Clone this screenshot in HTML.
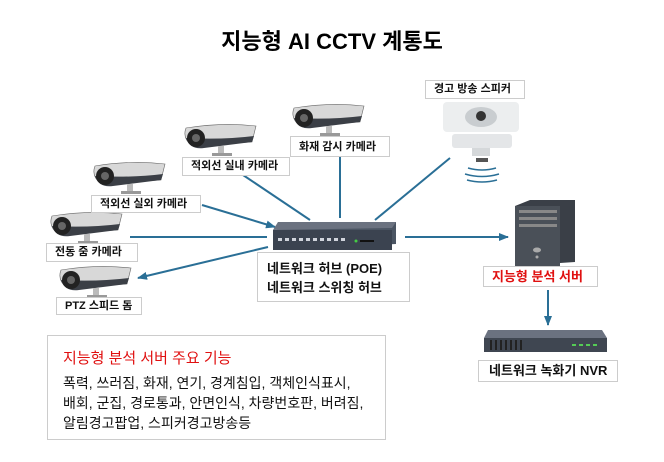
<!DOCTYPE html>
<html><head><meta charset="utf-8"><style>
body{margin:0;width:664px;height:462px;background:#fff;overflow:hidden;font-family:"Liberation Sans","Noto Sans CJK KR",sans-serif;position:relative}
.t{position:absolute;white-space:nowrap}
.b{position:absolute;border:1px solid #ccc;background:#fff;box-sizing:border-box;font-weight:bold;font-size:11px;color:#111;padding-left:8px;line-height:16px}
</style></head><body>
<div class="t" style="left:0;width:664px;text-align:center;top:24px;font-size:22px;font-weight:bold;color:#000">지능형 AI CCTV 계통도</div>
<svg width="664" height="462" style="position:absolute;left:0;top:0">
<defs>
<marker id="a" markerUnits="userSpaceOnUse" markerWidth="10" markerHeight="8" refX="9" refY="4" orient="auto"><path d="M0,0L10,4L0,8z" fill="#2a6f96"/></marker>
<g id="cam">
<path d="M4,4 Q0,14 10,22 L70,18 L74,2 Q40,-2 4,4z" fill="#d8d8d8" stroke="#666" stroke-width="0.6"/>
<path d="M4,14 Q8,26 22,24 L70,18 L72,12 Q40,16 4,14z" fill="#3b3f46"/>
<ellipse cx="14" cy="14" rx="9" ry="9" fill="#222"/><circle cx="14" cy="14" r="4" fill="#666"/>
<rect x="36" y="22" width="6" height="8" fill="#bbb"/><rect x="30" y="29" width="20" height="3" fill="#999"/>
</g>
</defs>
<g stroke="#2a6f96" stroke-width="2" fill="none">
<line x1="130" y1="237" x2="267" y2="237"/>
<line x1="202" y1="205" x2="275" y2="227" marker-end="url(#a)"/>
<line x1="243" y1="175" x2="310" y2="220"/>
<line x1="340" y1="157" x2="340" y2="218"/>
<line x1="450" y1="158" x2="375" y2="220"/>
<line x1="268" y1="247" x2="138" y2="278" marker-end="url(#a)"/>
<line x1="405" y1="237" x2="508" y2="237" marker-end="url(#a)"/>
<line x1="548" y1="290" x2="548" y2="325" marker-end="url(#a)"/>
</g>
<use href="#cam" x="290" y="104"/>
<use href="#cam" x="182" y="124"/>
<use href="#cam" x="91" y="162"/>
<use href="#cam" x="48" y="212"/>
<use href="#cam" x="57" y="266"/>
<path d="M278,222 L396,222 L396,244 L273,250 Z" fill="#4b5563"/>
<path d="M278,222 L396,222 L392,228 L273,230Z" fill="#6b7280"/>
<rect x="273" y="230" width="119" height="20" fill="#3b4350"/>
<g fill="#d0d4dc"><rect x="278" y="238" width="4" height="3"/><rect x="285" y="238" width="4" height="3"/><rect x="292" y="238" width="4" height="3"/><rect x="299" y="238" width="4" height="3"/><rect x="306" y="238" width="4" height="3"/><rect x="313" y="238" width="4" height="3"/><rect x="320" y="238" width="4" height="3"/><rect x="327" y="238" width="4" height="3"/><rect x="334" y="238" width="4" height="3"/><rect x="341" y="238" width="4" height="3"/></g>
<rect x="360" y="240" width="14" height="2" fill="#111"/><circle cx="356" cy="241" r="1.5" fill="#4c4"/>
<rect x="443" y="102" width="76" height="30" rx="4" fill="#eceeef"/>
<ellipse cx="481" cy="117" rx="16" ry="10" fill="#c9cdd0"/><circle cx="481" cy="116" r="5" fill="#333"/>
<rect x="452" y="134" width="60" height="14" rx="3" fill="#e4e6e8"/>
<rect x="472" y="148" width="18" height="8" fill="#d5d8da"/><rect x="476" y="158" width="12" height="4" fill="#555"/>
<g stroke="#2a6f96" stroke-width="1.5" fill="none"><path d="M468,168 Q482,172 496,168"/><path d="M465,174 Q482,179 499,174"/><path d="M467,180 Q482,184 497,180"/></g>
<path d="M515,206 L530,200 L575,200 L575,262 L515,266Z" fill="#3a3f47"/>
<rect x="515" y="206" width="45" height="60" fill="#4a5058"/>
<g fill="#888"><rect x="519" y="210" width="38" height="3"/><rect x="519" y="217" width="38" height="3"/><rect x="519" y="224" width="38" height="3"/></g>
<ellipse cx="537" cy="250" rx="4" ry="2.5" fill="#aaa"/><circle cx="537" cy="257" r="1.5" fill="#aaa"/>
<path d="M488,330 L602,330 L607,338 L484,338Z" fill="#6b7280"/>
<rect x="484" y="338" width="123" height="14" fill="#3f4651"/>
<g fill="#222"><rect x="490" y="340" width="2" height="10"/><rect x="495" y="340" width="2" height="10"/><rect x="500" y="340" width="2" height="10"/><rect x="505" y="340" width="2" height="10"/><rect x="510" y="340" width="2" height="10"/><rect x="515" y="340" width="2" height="10"/><rect x="520" y="340" width="2" height="10"/></g>
<g fill="#5c5"><rect x="572" y="344" width="4" height="2"/><rect x="579" y="344" width="4" height="2"/><rect x="586" y="344" width="4" height="2"/><rect x="593" y="344" width="4" height="2"/></g>
</svg>
<div class="b" style="left:182px;top:157px;width:108px;height:19px">적외선 실내 카메라</div>
<div class="b" style="left:290px;top:136px;width:100px;height:21px;padding-top:2px">화재 감시 카메라</div>
<div class="b" style="left:91px;top:195px;width:110px;height:18px">적외선 실외 카메라</div>
<div class="b" style="left:46px;top:243px;width:92px;height:19px">전동 줌 카메라</div>
<div class="b" style="left:56px;top:297px;width:86px;height:18px">PTZ 스피드 돔</div>
<div class="b" style="left:425px;top:80px;width:100px;height:19px">경고 방송 스피커</div>
<div class="b" style="left:257px;top:252px;width:153px;height:50px;font-size:13px;line-height:19px;padding:6px 0 0 9px">네트워크 허브 (POE)<br>네트워크 스위칭 허브</div>
<div class="b" style="left:483px;top:266px;width:115px;height:21px;font-size:13px;color:#e01010;padding-top:2px">지능형 분석 서버</div>
<div class="b" style="left:478px;top:360px;width:140px;height:22px;font-size:13px;padding:2px 0 0 10px">네트워크 녹화기 NVR</div>
<div style="position:absolute;left:47px;top:335px;width:339px;height:105px;border:1px solid #ccc;box-sizing:border-box"></div>
<div class="t" style="left:63px;top:347px;font-size:15px;color:#e01010">지능형 분석 서버 주요 기능</div>
<div class="t" style="left:63px;top:373px;font-size:14px;line-height:20px;color:#111">폭력, 쓰러짐, 화재, 연기, 경계침입, 객체인식표시,<br>배회, 군집, 경로통과, 안면인식, 차량번호판, 버려짐,<br>알림경고팝업, 스피커경고방송등</div>
</body></html>
